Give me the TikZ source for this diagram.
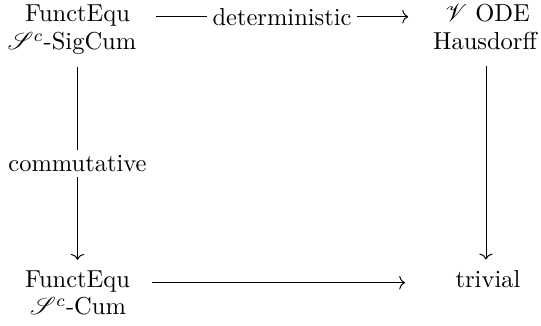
\documentclass[tikz,border=0pt]{standalone}
\usepackage{mathrsfs}
\usetikzlibrary{calc,arrows.meta}
\tikzset{
  txt/.style={anchor=base,inner sep=0pt},
  arr/.style={line width=0.4pt,-{Computer Modern Rightarrow[length=2.4pt,width=5.5pt]}},
  lbl/.style={fill=white,inner sep=2.2pt,midway}
}
\begin{document}
\begin{tikzpicture}[x=0.408pt,y=-0.408pt]
\useasboundingbox (0,0) rectangle (541,326);
\node[txt] (tl1) at (77.5,22) {FunctEqu};
\node[txt] (tl2) at (72,50) {$\mathscr{S}^c$-SigCum};
\node[txt] (tr1) at (487.5,22) {$\mathscr{V}$ ODE};
\node[txt] (tr2) at (485,50) {Hausdorff};
\node[txt] (bl1) at (77.5,288) {FunctEqu};
\node[txt] (bl2) at (78,315) {$\mathscr{S}^c$-Cum};
\node[txt] (br) at (488,288) {trivial};
\draw[arr] ($(tl1.mid east)+(25.5,0)$) -- node[lbl]{deterministic} ($(tr1.mid west)+(-36.5,0)$);
\draw[arr] ($(bl1.mid east)+(22,0)$) -- ($(br.mid west)+(-50,0)$);
\draw[arr] ($(bl1.north |- tl2.south)+(0,11.3)$) -- node[lbl]{commutative} ($(bl1.north)+(0,-11)$);
\draw[arr] ($(tr2.south)+(1,15)$) -- ($(tr2.south |- br.north)+(1,-11)$);
\end{tikzpicture}
\end{document}
